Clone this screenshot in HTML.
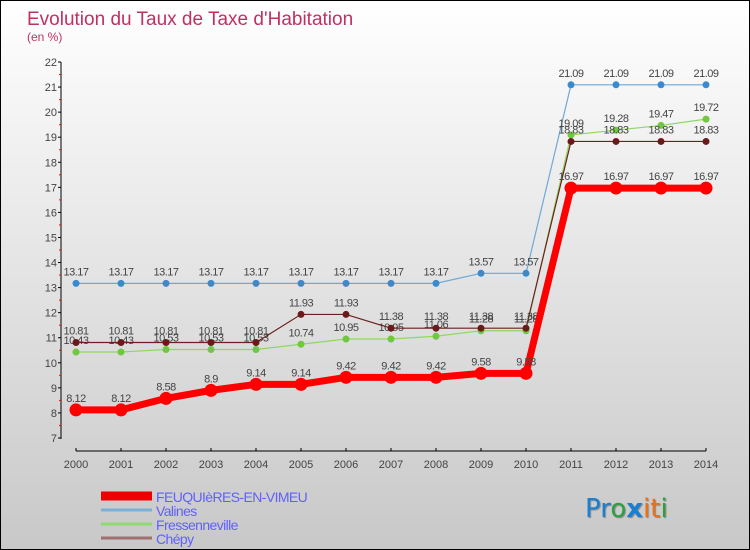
<!DOCTYPE html>
<html><head><meta charset="utf-8"><style>
body{margin:0}
#wrap{position:relative;width:748px;height:548px;border:1px solid #000;background:linear-gradient(#fff,#c8c8c8);font-family:"Liberation Sans",sans-serif;overflow:hidden}
svg{position:absolute;left:0;top:0}
</style></head><body>
<div id="wrap">
<svg id="chart" width="750" height="550">
<text x="26" y="24" font-size="19" fill="#c03060">Evolution du Taux de Taxe d'Habitation</text>
<text x="26" y="40" font-size="12" fill="#c03060">(en %)</text>
<g id="axes"></g><g id="series"></g><g id="legend"></g>
<text x="584" y="516" font-size="26" font-family="'DejaVu Sans',sans-serif" style="text-shadow:1px 1px 1px #888"><tspan fill="#1a7fd0">Pr</tspan><tspan fill="#2aa040">o</tspan><tspan fill="#1a7fd0" font-weight="bold">x</tspan><tspan fill="#f07010">i</tspan><tspan fill="#f07010">t</tspan><tspan fill="#2aa040">i</tspan></text>
</svg></div>
<script>
const years=[2000,2001,2002,2003,2004,2005,2006,2007,2008,2009,2010,2011,2012,2013,2014];
const yTicks=[7,8,9,10,11,12,13,14,15,16,17,18,19,20,21,22];
const feuq=[8.12,8.12,8.58,8.9,9.14,9.14,9.42,9.42,9.42,9.58,9.58,16.97,16.97,16.97,16.97];
const valines=[13.17,13.17,13.17,13.17,13.17,13.17,13.17,13.17,13.17,13.57,13.57,21.09,21.09,21.09,21.09];
const fress=[10.43,10.43,10.53,10.53,10.53,10.74,10.95,10.95,11.06,11.28,11.28,19.09,19.28,19.47,19.72];
const chepy=[10.81,10.81,10.81,10.81,10.81,11.93,11.93,11.38,11.38,11.38,11.38,18.83,18.83,18.83,18.83];
const names=["FEUQUIèRES-EN-VIMEU","Valines","Fressenneville","Chépy"];
const NS="http://www.w3.org/2000/svg";
const X=i=>75+i*45, Y=v=>437-(v-7)*(376/15);
function mk(t,a,p){const e=document.createElementNS(NS,t);for(const k in a)e.setAttribute(k,a[k]);p.appendChild(e);return e;}
const ax=document.getElementById('axes');
let e=mk('line',{x1:60,y1:61,x2:60,y2:438,stroke:'#000'},ax);


e=mk('line',{x1:75,y1:450,x2:705,y2:450,stroke:'#000'},ax);


yTicks.forEach(v=>{mk('line',{x1:57,x2:60,y1:Y(v),y2:Y(v),stroke:'#000'},ax);
 if(v<22)mk('line',{x1:58,x2:60,y1:Y(v+0.5),y2:Y(v+0.5),stroke:'#f00'},ax);
 const t=mk('text',{x:56,y:Y(v)+4,'font-size':11,fill:'#444','text-anchor':'end'},ax);t.textContent=v;
 
 });
years.forEach((y,i)=>{mk('line',{x1:X(i),x2:X(i),y1:447,y2:450,stroke:'#000'},ax);
 const t=mk('text',{x:X(i),y:467,'font-size':11,fill:'#444','text-anchor':'middle'},ax);t.textContent=y;
 
 });
const sg=document.getElementById('series');
function draw(vals,col,dot,w,r,name){const g=mk('g',{},sg);
 
 
 mk('polyline',{points:vals.map((v,i)=>X(i)+','+Y(v)).join(' '),fill:'none',stroke:col,'stroke-width':w},g);
 vals.forEach((v,i)=>{const c=mk('circle',{cx:X(i),cy:Y(v),r:r,fill:dot},g);
  
  
  const t=mk('text',{x:X(i),y:Y(v)-8,'font-size':11,fill:'#444','text-anchor':'middle','letter-spacing':'-0.5'},g);t.textContent=v;});}
draw(valines,'#6ea8d8','#3a8ad0',1.2,3.5,'series-valines');
draw(fress,'#8ed860','#70c840',1.2,3.5,'series-fressenneville');
draw(chepy,'#6a2020','#6a1a1a',1.2,3.5,'series-chepy');
draw(feuq,'#f00','#f00',7,6.5,'series-feuquieres');
const lg=document.getElementById('legend');
const lc=['#e00','#7ab0d8','#90d870','#a07070'],lw=[9,3,3,3];
names.forEach((n,i)=>{const y=495+i*14;const g=mk('g',{},lg);
 
 
 mk('line',{x1:100,x2:151,y1:y,y2:y,stroke:lc[i],'stroke-width':lw[i]},g);
 const t=mk('text',{x:155,y:y+6,'font-size':14,fill:'#6060ff','letter-spacing':'-0.6'},g);t.textContent=n;});
</script>
</body></html>
